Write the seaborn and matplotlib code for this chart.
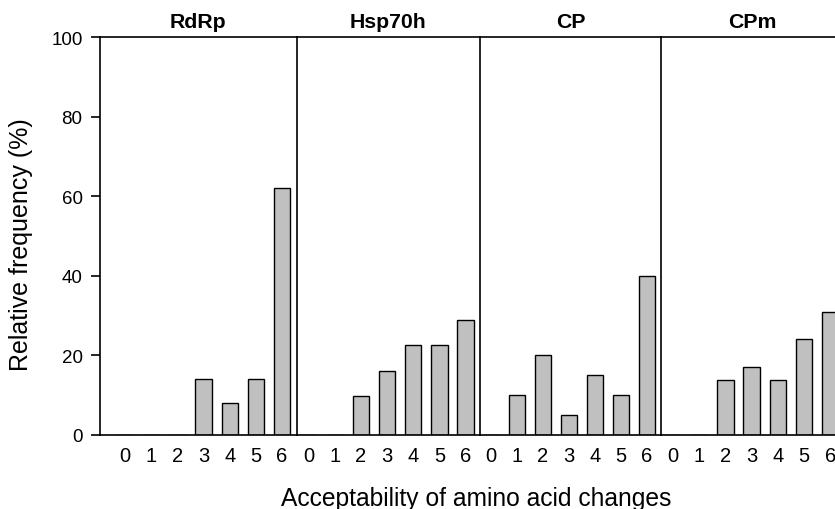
import matplotlib
matplotlib.use("Agg")
import matplotlib.pyplot as plt
import seaborn as sns
import pandas as pd

# ---- data ----
genes = ["RdRp", "Hsp70h", "CP", "CPm"]
scores = ["0", "1", "2", "3", "4", "5", "6"]
rdrp = [0, 0, 0, 14.1, 8.1, 14.1, 62.0]
hsp70h = [0, 0, 9.7, 16.1, 22.6, 22.6, 29.0]
cp = [0, 10.0, 20.0, 5.0, 15.0, 10.0, 40.0]
cpm = [0, 0, 13.8, 17.2, 13.8, 24.1, 31.0]
series = [rdrp, hsp70h, cp, cpm]
yticks = [0, 20, 40, 60, 80, 100]

sns.set_theme(style="white")
plt.rcParams["font.family"] = ["Liberation Sans", "DejaVu Sans"]

W, H = 835, 510
fig = plt.figure(figsize=(W / 100, H / 100), dpi=100)

# panel geometry in pixels (left, width)
lefts = [99.5, 296.7, 480.0, 661.0]
widths = [197.2, 183.3, 181.0, 183.3]
xlims = [(-0.98, 6.56), (-0.45, 6.55), (-0.42, 6.54), (-0.46, 6.54)]
bottom_px, top_px = 436.0, 38.3

for i, (gene, vals) in enumerate(zip(genes, series)):
    ax = fig.add_axes([lefts[i] / W, (H - bottom_px) / H,
                       widths[i] / W, (bottom_px - top_px) / H])
    df = pd.DataFrame({"score": scores, "freq": vals})
    sns.barplot(data=df, x="score", y="freq", order=scores, color="#c0c0c0",
                saturation=1, edgecolor="black", linewidth=1.0, width=0.63,
                ax=ax)
    ax.set_xlim(*xlims[i])
    ax.set_ylim(0, 100)
    ax.set_xlabel("")
    ax.set_ylabel("")
    for s in ["left", "top", "bottom"]:
        ax.spines[s].set_visible(True)
        ax.spines[s].set_color("black")
        ax.spines[s].set_linewidth(1.2)
    ax.spines["right"].set_visible(False)
    ax.tick_params(axis="x", length=0, pad=8, labelsize=14.5, colors="black")
    ax.set_yticks(yticks)
    if i == 0:
        ax.tick_params(axis="y", left=True, length=6.5, width=1.2,
                       direction="out", pad=5.7, labelsize=13.5, colors="black")
    else:
        ax.tick_params(axis="y", left=False, labelleft=False)
    ax.set_title(gene, fontsize=15.3, fontweight="bold", pad=7.5, color="black")

fig.text(21 / W, 1 - 245 / H, "Relative frequency (%)", rotation=90,
         ha="center", va="center", fontsize=18, color="black")
fig.text(476 / W, 1 - 499 / H, "Acceptability of amino acid changes",
         ha="center", va="center", fontsize=17.7, color="black")

fig.savefig("out.png", dpi=100)
